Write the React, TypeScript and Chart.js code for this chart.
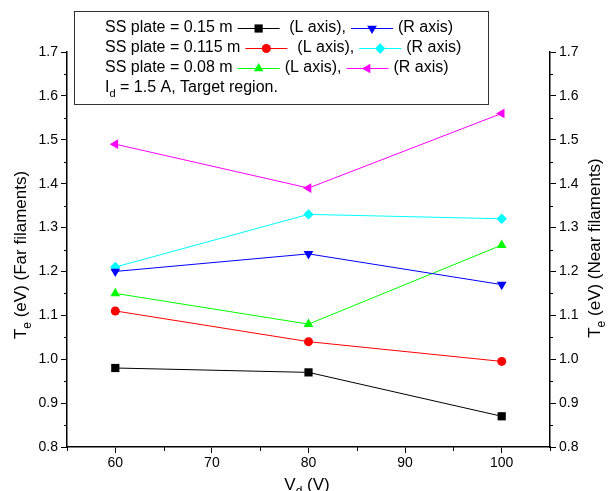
import React, { useEffect, useRef } from 'react';
import { Chart, registerables } from 'chart.js';
import { drawPoint } from 'chart.js/helpers';

Chart.register(...registerables);

const voltages = [60, 80, 100];
const black015L = [0.98, 0.97, 0.87];
const blue015R = [1.2, 1.24, 1.17];
const red0115L = [1.11, 1.04, 0.995];
const cyan0115R = [1.21, 1.33, 1.32];
const green008L = [1.15, 1.08, 1.26];
const magenta008R = [1.49, 1.39, 1.56];

const xTickValues = [60, 70, 80, 90, 100];
const xMinorValues = [55, 65, 75, 85, 95, 105];
const yTickValues = [0.8, 0.9, 1.0, 1.1, 1.2, 1.3, 1.4, 1.5, 1.6, 1.7];
const yMinorValues = [0.85, 0.95, 1.05, 1.15, 1.25, 1.35, 1.45, 1.55, 1.65];

const FONT = '"Liberation Sans", Arial, sans-serif';

type Mk = { color: string; style: string; radius: number; rotation: number };
const markers: Record<string, Mk> = {
  black: { color: '#000000', style: 'rect', radius: 5.8, rotation: 0 },
  blue: { color: '#0000ff', style: 'triangle', radius: 5.6, rotation: 180 },
  red: { color: '#ff0000', style: 'circle', radius: 4.5, rotation: 0 },
  cyan: { color: '#00ffff', style: 'rectRot', radius: 5.2, rotation: 0 },
  green: { color: '#00ff00', style: 'triangle', radius: 5.6, rotation: 0 },
  magenta: { color: '#ff00ff', style: 'triangle', radius: 5.6, rotation: 270 },
};

const mkData = (ys: number[]) => voltages.map((x, i) => ({ x, y: ys[i] }));

const ds = (label: string, ys: number[], key: string, axis: string) => {
  const m = markers[key];
  return {
    label,
    data: mkData(ys),
    yAxisID: axis,
    borderColor: m.color,
    backgroundColor: m.color,
    borderWidth: 1,
    pointStyle: m.style,
    pointRadius: m.radius,
    pointRotation: m.rotation,
    pointBorderWidth: 0,
    pointBackgroundColor: m.color,
    tension: 0,
  };
};

function drawSubText(ctx: CanvasRenderingContext2D, parts: { t: string; sub?: boolean }[], cx: number, cy: number, size: number) {
  const subSize = Math.round(size * 0.68);
  const widths = parts.map((p) => {
    ctx.font = `${p.sub ? subSize : size}px ${FONT}`;
    return ctx.measureText(p.t).width;
  });
  const total = widths.reduce((a, b) => a + b, 0);
  let x = cx - total / 2;
  ctx.textAlign = 'left';
  ctx.textBaseline = 'middle';
  parts.forEach((p, i) => {
    ctx.font = `${p.sub ? subSize : size}px ${FONT}`;
    ctx.fillText(p.t, x, cy + (p.sub ? size * 0.38 : 0));
    x += widths[i];
  });
}

const customPlugin = {
  id: 'customDecor',
  afterDraw(chart: any) {
    const ctx: CanvasRenderingContext2D = chart.ctx;
    const area = chart.chartArea;
    const xs = chart.scales.x;
    const yl = chart.scales.y;
    const yr = chart.scales.y2;
    ctx.save();
    // minor ticks
    ctx.strokeStyle = '#000';
    ctx.lineWidth = 1;
    ctx.beginPath();
    yMinorValues.forEach((v) => {
      const p = Math.round(yl.getPixelForValue(v)) + 0.5;
      ctx.moveTo(area.left - 3, p);
      ctx.lineTo(area.left, p);
      const p2 = Math.round(yr.getPixelForValue(v)) + 0.5;
      ctx.moveTo(area.right, p2);
      ctx.lineTo(area.right + 3, p2);
    });
    xMinorValues.forEach((v) => {
      const p = Math.round(xs.getPixelForValue(v)) + 0.5;
      ctx.moveTo(p, area.bottom);
      ctx.lineTo(p, area.bottom + 4);
    });
    ctx.stroke();

    // axis titles
    ctx.fillStyle = '#000';
    ctx.save();
    ctx.translate(21, 255);
    ctx.rotate(-Math.PI / 2);
    drawSubText(ctx, [{ t: 'T' }, { t: 'e', sub: true }, { t: ' (eV) (Far filaments)' }], 0, 0, 17);
    ctx.restore();

    ctx.save();
    ctx.translate(595, 248);
    ctx.rotate(-Math.PI / 2);
    drawSubText(ctx, [{ t: 'T' }, { t: 'e', sub: true }, { t: ' (eV) (Near filaments)' }], 0, 0, 17);
    ctx.restore();

    drawSubText(ctx, [{ t: 'V' }, { t: 'd', sub: true }, { t: ' (V)' }], 307, 485, 17);

    // legend box
    ctx.fillStyle = '#ffffff';
    ctx.fillRect(74, 11, 414, 93);
    ctx.strokeStyle = '#333';
    ctx.lineWidth = 1;
    ctx.strokeRect(74.5, 11.5, 414, 93);

    const rows = [
      { text: 'SS plate = 0.15 m', l: 'black', r: 'blue', gap: 9.5 },
      { text: 'SS plate = 0.115 m', l: 'red', r: 'cyan', gap: 10 },
      { text: 'SS plate = 0.08 m', l: 'green', r: 'magenta', gap: 5 },
    ];
    const rowY = [28, 48, 68, 88];
    const LF = 16;
    ctx.textBaseline = 'middle';
    ctx.textAlign = 'left';
    const drawSample = (x: number, y: number, key: string) => {
      const m = markers[key];
      ctx.strokeStyle = m.color;
      ctx.lineWidth = 1;
      ctx.beginPath();
      ctx.moveTo(x, y + 0.5);
      ctx.lineTo(x + 42, y + 0.5);
      ctx.stroke();
      ctx.fillStyle = m.color;
      drawPoint(ctx, { pointStyle: m.style as any, radius: m.radius, rotation: m.rotation, borderWidth: 0 } as any, x + 21, y + 0.5);
      ctx.fillStyle = '#000';
    };
    rows.forEach((row, i) => {
      const y = rowY[i];
      let x = 105;
      ctx.fillStyle = '#000';
      ctx.font = `${LF}px ${FONT}`;
      ctx.fillText(row.text, x, y);
      x += ctx.measureText(row.text).width + 5;
      drawSample(x, y, row.l);
      x += 42 + row.gap;
      ctx.font = `${LF}px ${FONT}`;
      ctx.fillText('(L axis),', x, y);
      x += ctx.measureText('(L axis),').width + 5;
      drawSample(x, y, row.r);
      x += 42 + 5;
      ctx.font = `${LF}px ${FONT}`;
      ctx.fillText('(R axis)', x, y);
    });
    {
      const y = rowY[3];
      let x = 105;
      ctx.fillStyle = '#000';
      ctx.font = `${LF}px ${FONT}`;
      ctx.fillText('I', x, y);
      x += ctx.measureText('I').width;
      ctx.font = `11px ${FONT}`;
      ctx.fillText('d', x, y + 6);
      x += ctx.measureText('d').width;
      ctx.font = `${LF}px ${FONT}`;
      ctx.fillText(' = 1.5 A, Target region.', x, y);
    }
    ctx.restore();
  },
};

export default function App() {
  const ref = useRef<HTMLCanvasElement>(null);
  useEffect(() => {
    if (!ref.current) return;
    Chart.defaults.font.family = FONT;
    const yAxis = (position: 'left' | 'right', width: number) => ({
      type: 'linear' as const,
      position,
      min: 0.8,
      max: 1.7,
      afterBuildTicks: (s: any) => {
        s.ticks = yTickValues.map((v) => ({ value: v }));
      },
      afterFit: (s: any) => {
        s.width = width;
      },
      ticks: {
        color: '#000',
        font: { size: 14, family: FONT },
        padding: 3,
        callback: (v: any) => Number(v).toFixed(1),
      },
      grid: { drawOnChartArea: false, drawTicks: true, tickLength: 6, color: '#000', lineWidth: 1 },
      border: { display: true, color: '#000', width: 1.5 },
    });
    const chart = new Chart(ref.current, {
      type: 'line',
      data: {
        datasets: [
          ds('SS plate = 0.15 m (L axis)', black015L, 'black', 'y'),
          ds('SS plate = 0.15 m (R axis)', blue015R, 'blue', 'y2'),
          ds('SS plate = 0.115 m (L axis)', red0115L, 'red', 'y'),
          ds('SS plate = 0.115 m (R axis)', cyan0115R, 'cyan', 'y2'),
          ds('SS plate = 0.08 m (L axis)', green008L, 'green', 'y'),
          ds('SS plate = 0.08 m (R axis)', magenta008R, 'magenta', 'y2'),
        ] as any,
      },
      options: {
        animation: false,
        responsive: false,
        maintainAspectRatio: false,
        layout: { padding: { top: 52, left: 0, right: 0, bottom: 0 } },
        plugins: { legend: { display: false }, tooltip: { enabled: false }, title: { display: false } },
        scales: {
          x: {
            type: 'linear',
            min: 55,
            max: 105,
            afterBuildTicks: (s: any) => {
              s.ticks = xTickValues.map((v) => ({ value: v }));
            },
            afterFit: (s: any) => {
              s.height = 44;
            },
            ticks: { color: '#000', font: { size: 14, family: FONT }, padding: 2, maxRotation: 0 },
            grid: { drawOnChartArea: false, drawTicks: true, tickLength: 6, color: '#000', lineWidth: 1 },
            border: { display: true, color: '#000', width: 1.5 },
          },
          y: yAxis('left', 67),
          y2: yAxis('right', 58),
        } as any,
      },
      plugins: [customPlugin],
    });
    return () => chart.destroy();
  }, []);
  return (
    <div style={{ position: 'fixed', left: 0, top: 0, width: 608, height: 491, background: '#fff' }}>
      <canvas ref={ref} width={608} height={491} style={{ display: 'block' }} />
    </div>
  );
}
